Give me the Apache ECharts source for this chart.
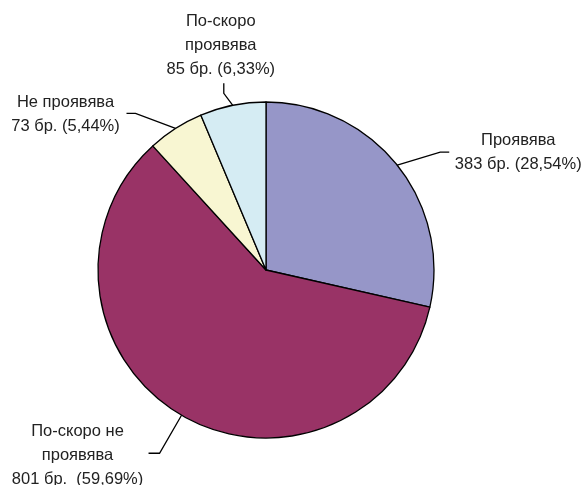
<!DOCTYPE html>
<html>
<head>
<meta charset="utf-8">
<script src="https://cdn.jsdelivr.net/npm/echarts@6/dist/echarts.min.js"></script>
<style>
  html, body { margin: 0; padding: 0; background: #ffffff; }
  #chart { width: 585px; height: 485px; }
</style>
</head>
<body>
<div id="chart"></div>
<script>
// datos del gráfico
const categories = ['Проявява', 'По-скоро не проявява', 'Не проявява', 'По-скоро проявява'];
const labelNames = ['Проявява', 'По-скоро не\nпроявява', 'Не проявява', 'По-скоро\nпроявява'];
const counts = [383, 801, 73, 85];
const percents = ['28,54', '59,69', '5,44', '6,33'];

const colors = ['#9696C8', '#993366', '#F8F6D2', '#D5ECF3'];

// desplazamientos de las etiquetas respecto al borde del sector (estilo)
const leaderOffsets = [
  { p1: [43, -13], p2: [52, -13], text: [121, -13] },
  { p1: [-22, 38], p2: [-33, 38], text: [-104, 40] },
  { p1: [-40, -15], p2: [-49, -15], text: [-110, -14] },
  { p1: [-9, -12], p2: [-9, -22], text: [-12, -60] }
];

function initChart() {
  const chart = echarts.init(document.getElementById('chart'));

  const pieData = categories.map((name, i) => ({
    name,
    value: counts[i],
    itemStyle: { color: colors[i] }
  }));

  const options = {
    backgroundColor: '#ffffff',
    animation: false,
    series: [
      {
        type: 'pie',
        center: [266, 270],
        radius: 168,
        startAngle: 90,
        clockwise: true,
        data: pieData,
        itemStyle: {
          borderColor: '#000000',
          borderWidth: 1.3
        },
        label: {
          show: true,
          position: 'outside',
          overflow: 'none',
          fontFamily: '"Liberation Sans", Arial, sans-serif',
          fontSize: 16.5,
          lineHeight: 24,
          color: '#222222',
          formatter: p => {
            const i = p.dataIndex;
            const gap = i === 1 ? '  ' : ' ';
            return labelNames[i] + '\n' + counts[i] + ' бр.' + gap + '(' + percents[i] + '%)';
          }
        },
        labelLine: {
          show: true,
          length: 20,
          length2: 10,
          lineStyle: { color: '#000000', width: 1.3 }
        },
        labelLayout: params => {
          const off = leaderOffsets[params.dataIndex];
          const edge = params.labelLinePoints[0];
          return {
            x: edge[0] + off.text[0],
            y: edge[1] + off.text[1],
            align: 'center',
            verticalAlign: 'middle',
            labelLinePoints: [
              [edge[0], edge[1]],
              [edge[0] + off.p1[0], edge[1] + off.p1[1]],
              [edge[0] + off.p2[0], edge[1] + off.p2[1]]
            ]
          };
        }
      }
    ]
  };

  chart.setOption(options);
}

document.addEventListener('DOMContentLoaded', initChart);
</script>
</body>
</html>
